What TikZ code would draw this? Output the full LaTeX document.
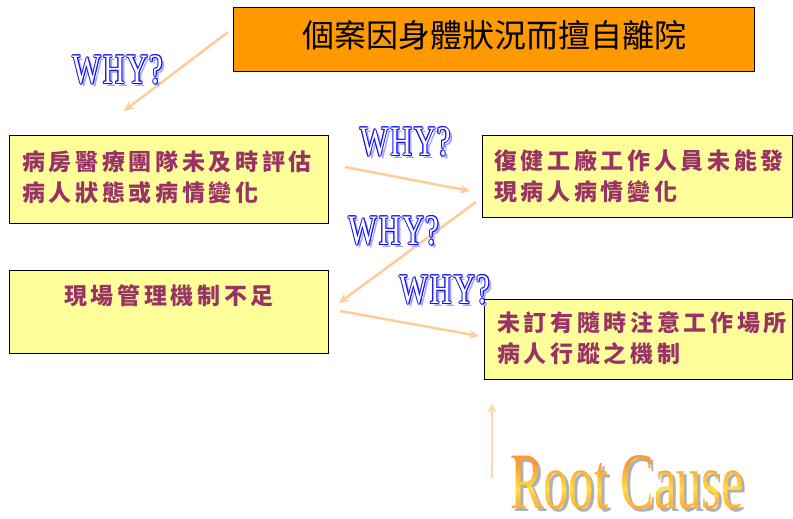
\documentclass[tikz,border=0pt]{standalone}
\usepackage{fontspec}
\setmainfont{Liberation Serif}
\newfontfamily\cjk{Noto Sans CJK TC}
\newfontfamily\cjkb[LetterSpace=16]{Noto Sans CJK TC}
\usetikzlibrary{arrows.meta}
\definecolor{orangebox}{HTML}{FF9900}
\definecolor{yellowbox}{HTML}{FFFF99}
\definecolor{ptext}{HTML}{993366}
\definecolor{peach}{HTML}{FFCC99}
\definecolor{whyblue}{HTML}{1010FF}
\definecolor{whyshadow}{HTML}{A8A8FF}
\definecolor{rcA}{HTML}{FF9933}
\definecolor{rcB}{HTML}{FFDD44}
\definecolor{rcshadow}{HTML}{B0B0B0}
\newcommand\whyword{\scalebox{0.72}[1]{W\hspace{2.5pt}H\hspace{2.5pt}Y\hspace{1.5pt}?}}
\newcommand\whylabel[2]{%
  \node[whyfont, text=whyshadow] (#2s) at ([xshift=3pt,yshift=-3pt]#1) {\whyword};
  \foreach \dx/\dy [count=\k] in {-0.9/0,0.9/0,0/-0.9,0/0.9,-0.65/-0.65,0.65/0.65,-0.65/0.65,0.65/-0.65}
    \node[whyfont, text=whyblue] (#2o\k) at ([xshift=\dx pt,yshift=\dy pt]#1) {\whyword};
  \node[whyfont, text=white] (#2) at (#1) {\whyword};
}
\begin{document}
\begin{tikzpicture}[x=1pt,y=-1pt,
  box/.style={draw=black, line width=1pt, anchor=north west, inner sep=0pt},
  btext/.style={anchor=west, align=left, inner sep=0pt, text=ptext,
    font=\cjkb\bfseries\fontsize{23}{31}\selectfont},
  whyfont/.style={inner sep=0pt, font=\fontsize{42}{42}\selectfont},
  arr/.style={draw=peach, line width=2.5pt, -{Stealth[length=10pt,width=9pt]}},
  rcfont/.style={inner sep=0pt, anchor=base, font=\fontsize{80}{80}\selectfont}
]
\useasboundingbox (0,0) rectangle (793,519);

% top box
\node[box, fill=orangebox, minimum width=521pt, minimum height=64pt] (top) at (233,7) {};
\node[inner sep=0pt, font=\cjk\fontsize{32}{36}\selectfont] (toptext) at (494,35) {個案因身體狀況而擅自離院};

% yellow boxes
\node[box, fill=yellowbox, minimum width=319pt, minimum height=88pt] (b1) at (9,135) {};
\node[btext] (t1) at (22,177.5) {病房醫療團隊未及時評估\\病人狀態或病情變化};

\node[box, fill=yellowbox, minimum width=310pt, minimum height=82pt] (b2) at (482,135) {};
\node[btext] (t2) at (494,176) {復健工廠工作人員未能發\\現病人病情變化};

\node[box, fill=yellowbox, minimum width=319pt, minimum height=83pt] (b3) at (9,270) {};
\node[btext, anchor=center] (t3) at (169,296) {現場管理機制不足};

\node[box, fill=yellowbox, minimum width=308pt, minimum height=80pt] (b4) at (484,299) {};
\node[btext] (t4) at (497,338) {未訂有隨時注意工作場所\\病人行蹤之機制};

% arrows
\coordinate (a1s) at (228,32);  \coordinate (a1e) at (124,111);
\coordinate (a2s) at (345,167); \coordinate (a2e) at (470,191);
\coordinate (a3s) at (476,202); \coordinate (a3e) at (339,303);
\coordinate (a4s) at (340,311); \coordinate (a4e) at (479,336);
\coordinate (a5s) at (492,478); \coordinate (a5e) at (492,403);
\draw[arr] (a1s) -- (a1e);
\draw[arr] (a2s) -- (a2e);
\draw[arr] (a3s) -- (a3e);
\draw[arr] (a4s) -- (a4e);
\draw[arr, line width=2pt, draw=peach!80!white] (a5s) -- (a5e);

% WHY? labels
\whylabel{118,70}{w1}
\whylabel{405.5,142}{w2}
\whylabel{394,231}{w3}
\whylabel{445,290}{w4}

% Root Cause
\node[rcfont, text=rcshadow] (rcs) at (630,511) {\scalebox{0.63}[1]{Root Cause}};
\foreach \i in {0,...,11}{
  \pgfmathsetmacro\p{min(100,abs(\i-7)/5*100)}
  \pgfmathsetmacro\ya{\i==0 ? 0 : 452+5*\i}
  \pgfmathsetmacro\yb{\i==11 ? 519 : 457+5*\i}
  \begin{scope}
    \clip (0,\ya) rectangle (793,\yb);
    \node[rcfont, text=rcA!\p!rcB] (rc\i) at (627,508) {\scalebox{0.63}[1]{Root Cause}};
  \end{scope}
}
\end{tikzpicture}
\end{document}
